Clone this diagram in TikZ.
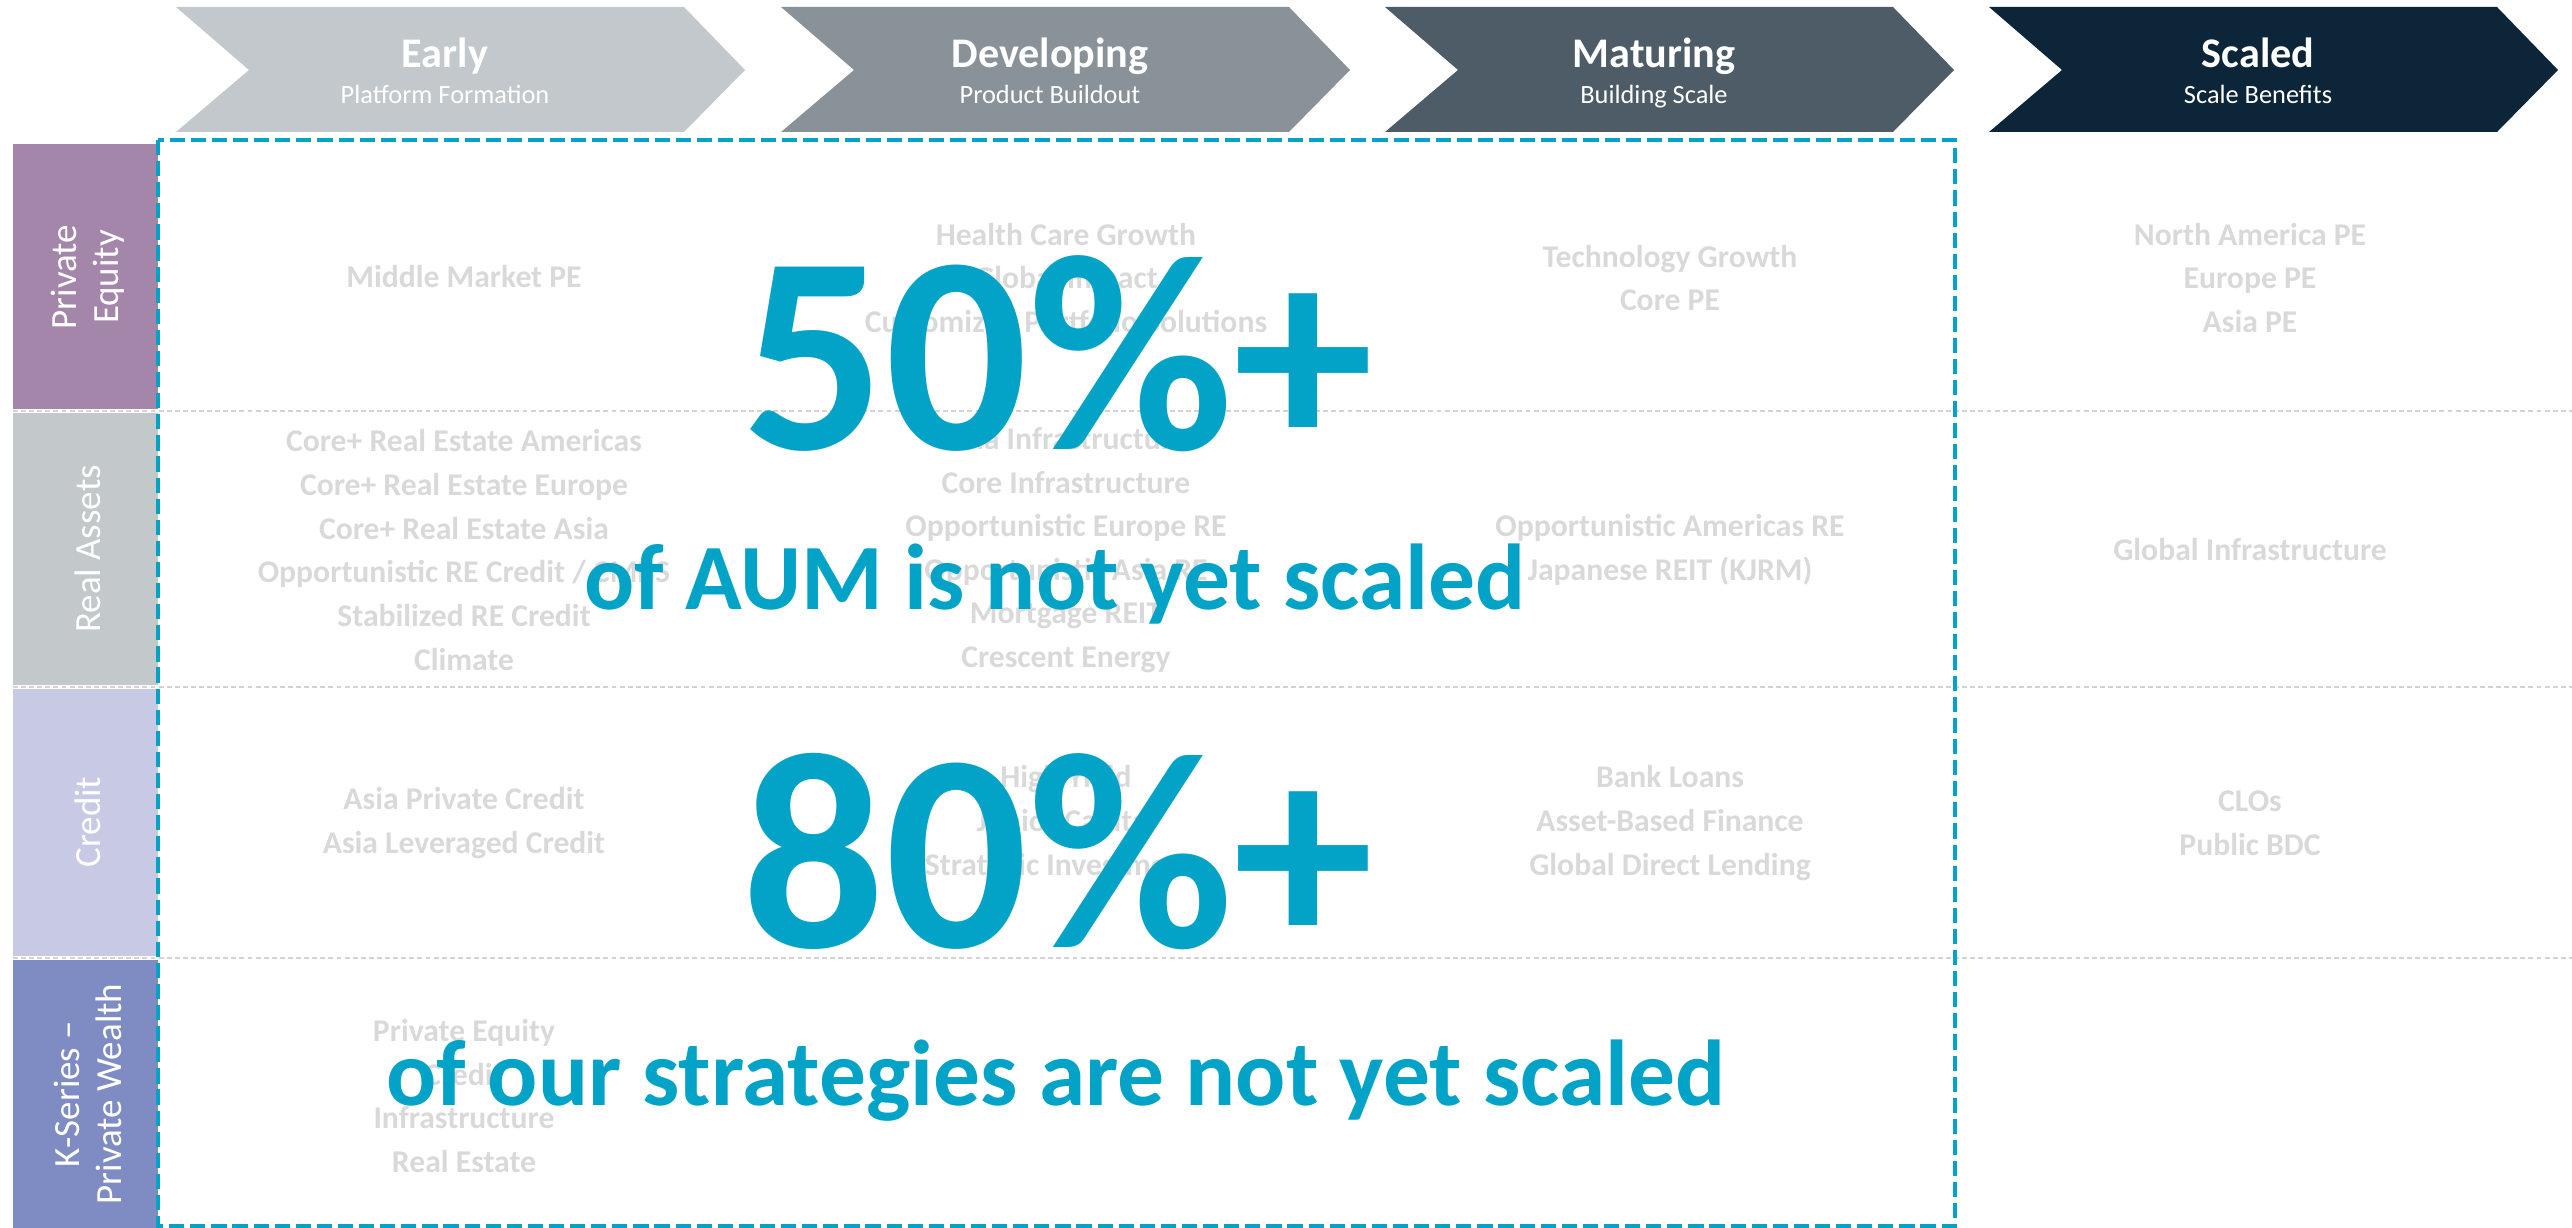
\documentclass[tikz,border=0pt]{standalone}
\usepackage{fontspec}
\setmainfont{Carlito}
\usetikzlibrary{positioning, calc}
\definecolor{earlygray}{HTML}{C2C8CB}
\definecolor{devgray}{HTML}{889298}
\definecolor{matgray}{HTML}{4D5C66}
\definecolor{scalednavy}{HTML}{0C2538}
\definecolor{pepurple}{HTML}{A386AA}
\definecolor{ragray}{HTML}{C3C8CB}
\definecolor{credlav}{HTML}{C8C9E4}
\definecolor{kswblue}{HTML}{7F8CC3}
\definecolor{stratgray}{HTML}{D9D9D9}
\definecolor{sepgray}{HTML}{D3D3D3}
\definecolor{kkrblue}{HTML}{02A3C7}

\begin{document}
\begin{tikzpicture}[
    x=0.01cm, y=-0.01cm,
    chev/.style={fill=#1, draw=none},
    phase/.style={font=\fontsize{12}{14}\selectfont\bfseries, text=white, inner sep=0pt, anchor=base},
    phasesub/.style={font=\fontsize{7.5}{9}\selectfont, text=white, inner sep=0pt, anchor=base},
    rowbar/.style={fill=#1, draw=none},
    rowlbl/.style={rotate=90, font=\fontsize{10.5}{12}\selectfont, text=white, align=center, inner sep=0pt},
    strat/.style={font=\fontsize{9}{12.4}\selectfont\bfseries, text=stratgray, align=center, inner sep=0pt},
    bignum/.style={font=\fontsize{80}{80}\selectfont\bfseries, text=kkrblue, inner sep=0pt, anchor=base},
    bigtxt/.style={font=\fontsize{26.6}{30}\selectfont\bfseries, text=kkrblue, inner sep=0pt, anchor=base},
    rowsep/.style={draw=sepgray, line width=0.6pt, dash pattern=on 1.4pt off 0.9pt},
    notscaled/.style={draw=kkrblue, line width=1pt, dash pattern=on 4.3pt off 1.7pt},
  ]
  \useasboundingbox (0,0) rectangle (2572,1228);

  % ── Phase chevrons ──
  \path[chev=earlygray]  (176,7)  -- ++(508,0) -- ++(61,63) -- ++(-61,62) -- ++(-508,0) -- ++(73,-62) -- cycle;
  \path[chev=devgray]    (781,7)  -- ++(508,0) -- ++(61,63) -- ++(-61,62) -- ++(-508,0) -- ++(73,-62) -- cycle;
  \path[chev=matgray]    (1385,7) -- ++(508,0) -- ++(61,63) -- ++(-61,62) -- ++(-508,0) -- ++(73,-62) -- cycle;
  \path[chev=scalednavy] (1989,7) -- ++(508,0) -- ++(61,63) -- ++(-61,62) -- ++(-508,0) -- ++(73,-62) -- cycle;

  \node[phase]    (early)     at (445,68)   {Early};
  \node[phasesub] (early-sub) at (445,104)  {Platform Formation};
  \node[phase]    (dev)       at (1050,68)  {Developing};
  \node[phasesub] (dev-sub)   at (1050,104) {Product Buildout};
  \node[phase]    (mat)       at (1654,68)  {Maturing};
  \node[phasesub] (mat-sub)   at (1654,104) {Building Scale};
  \node[phase]    (scl)       at (2258,68)  {Scaled};
  \node[phasesub] (scl-sub)   at (2258,104) {Scale Benefits};

  % ── Row bars ──
  \path[rowbar=pepurple] (13,144) rectangle (158,409);
  \path[rowbar=ragray]   (13,413) rectangle (158,685);
  \path[rowbar=credlav]  (13,689) rectangle (158,956);
  \path[rowbar=kswblue]  (13,960) rectangle (158,1228);

  \node[rowlbl] (pe)  at (88,277)  {Private\\Equity};
  \node[rowlbl] (ra)  at (88,549)  {Real Assets};
  \node[rowlbl] (cr)  at (88,822)  {Credit};
  \node[rowlbl] (ksw) at (88,1094) {K-Series --\\Private Wealth};

  % ── Row separators ──
  \draw[rowsep] (13,411) -- (2572,411);
  \draw[rowsep] (13,687) -- (2572,687);
  \draw[rowsep] (13,958) -- (2572,958);

  % ── Strategies ──
  \node[strat] (pe-early) at (464,277)  {Middle Market PE};
  \node[strat] (pe-dev)   at (1066,278) {Health Care Growth\\Global Impact\\Customized Portfolio Solutions};
  \node[strat] (pe-mat)   at (1670,278) {Technology Growth\\Core PE};
  \node[strat] (pe-scl)   at (2250,278) {North America PE\\Europe PE\\Asia PE};

  \node[strat] (ra-early) at (464,550)  {Core+ Real Estate Americas\\Core+ Real Estate Europe\\Core+ Real Estate Asia\\Opportunistic RE Credit / CMBS\\Stabilized RE Credit\\Climate};
  \node[strat] (ra-dev)   at (1066,550) {Asia Infrastructure\\Core Infrastructure\\Opportunistic Europe RE\\Opportunistic Asia RE\\Mortgage REIT\\Crescent Energy};
  \node[strat] (ra-mat)   at (1670,550) {Opportunistic Americas RE\\Japanese REIT (KJRM)};
  \node[strat] (ra-scl)   at (2250,550) {Global Infrastructure};

  \node[strat] (cr-early) at (464,823)  {Asia Private Credit\\Asia Leveraged Credit};
  \node[strat] (cr-dev)   at (1066,823) {High Yield\\Junior Capital\\Strategic Investments};
  \node[strat] (cr-mat)   at (1670,823) {Bank Loans\\Asset-Based Finance\\Global Direct Lending};
  \node[strat] (cr-scl)   at (2250,823) {CLOs\\Public BDC};

  \node[strat] (ksw-early) at (464,1096) {Private Equity\\Credit\\Infrastructure\\Real Estate};

  % ── Not-yet-scaled frame ──
  \draw[notscaled] (158,140) rectangle (1955,1226);

  % ── Headline figures ──
  \node[bignum] (aum-pct)   at (1058,450)  {50\%+};
  \node[bigtxt] (aum-txt)   at (1055,610)  {of AUM is not yet scaled};
  \node[bignum] (strat-pct) at (1058,947)  {80\%+};
  \node[bigtxt] (strat-txt) at (1056,1105) {of our strategies are not yet scaled};

\end{tikzpicture}
\end{document}
